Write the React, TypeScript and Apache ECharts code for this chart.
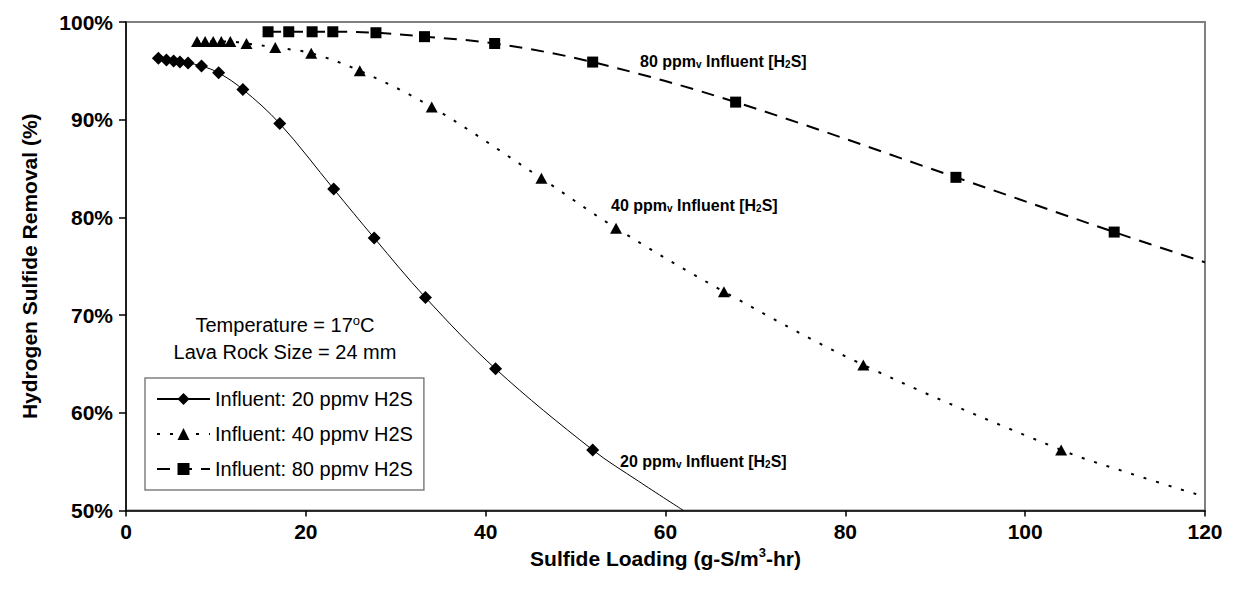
import React, { useEffect, useRef } from "react";
import * as echarts from "echarts";

const FONT = '"Liberation Sans", Arial, sans-serif';

// Axis ticks
const xTicks = [0, 20, 40, 60, 80, 100, 120];
const yTicks = [50, 60, 70, 80, 90, 100];

// Influent 20 ppmv H2S: measured points
const load20 = [3.6, 4.5, 5.3, 6.0, 6.9, 8.4, 10.3, 13.0, 17.1, 23.1, 27.6, 33.3, 41.1, 51.9];
const removal20 = [96.3, 96.1, 96.0, 95.9, 95.8, 95.5, 94.8, 93.1, 89.6, 82.9, 77.9, 71.8, 64.5, 56.2];
// trend line continuation past the last measurement
const trendLoad20 = [57.0, 62.0];
const trendRemoval20 = [53.0, 50.0];

// Influent 40 ppmv H2S
const load40 = [7.9, 8.8, 9.7, 10.6, 11.6, 13.4, 16.6, 20.6, 26.0, 34.0, 46.2, 54.5, 66.5, 82.0, 104.0];
const removal40 = [98.0, 98.0, 98.0, 98.0, 98.0, 97.8, 97.4, 96.8, 95.0, 91.3, 84.0, 78.9, 72.4, 64.9, 56.2];
const trendLoad40 = [112.0, 120.0];
const trendRemoval40 = [53.7, 51.4];

// Influent 80 ppmv H2S
const load80 = [15.8, 18.1, 20.7, 23.0, 27.8, 33.2, 41.0, 51.9, 67.8, 92.3, 109.9];
const removal80 = [99.0, 99.0, 99.0, 99.0, 98.9, 98.5, 97.8, 95.9, 91.8, 84.1, 78.5];
const trendLoad80 = [120.0];
const trendRemoval80 = [75.4];

const seriesNames = [
  "Influent: 20 ppmv H2S",
  "Influent: 40 ppmv H2S",
  "Influent: 80 ppmv H2S",
];

function buildData(loads: number[], vals: number[], tLoads: number[], tVals: number[]) {
  return [
    ...loads.map((x, i) => [x, vals[i]]),
    ...tLoads.map((x, i) => ({ value: [x, tVals[i]], symbol: "none" })),
  ];
}

const subRich = {
  b: { fontFamily: FONT, fontWeight: "bold", fontSize: 16, color: "#000", lineHeight: 19, verticalAlign: "middle" },
  s: { fontFamily: FONT, fontWeight: "bold", fontSize: 10, color: "#000", lineHeight: 19, verticalAlign: "bottom", padding: [0, 0, 1, 0] },
};

function curveLabel(ppm: string, x: number, y: number) {
  return {
    type: "text",
    left: x,
    top: y - 10,
    style: {
      text: `{b|${ppm} ppm}{s|v}{b| Influent [H}{s|2}{b|S]}`,
      rich: subRich,
    },
  };
}

export default function App() {
  const ref = useRef<HTMLDivElement>(null);

  useEffect(() => {
    document.body.style.margin = "0";
    const chart = echarts.init(ref.current!, undefined, { renderer: "svg" });

    const option = {
      animation: false,
      backgroundColor: "#fff",
      textStyle: { fontFamily: FONT },
      grid: {
        left: 126,
        right: 28,
        top: 22,
        bottom: 78.5,
        show: true,
        borderColor: "#808080",
        borderWidth: 2,
        backgroundColor: "transparent",
      },
      xAxis: {
        type: "value",
        min: xTicks[0],
        max: xTicks[xTicks.length - 1],
        interval: 20,
        splitLine: { show: false },
        axisLine: { show: true, lineStyle: { color: "#000", width: 1.5 } },
        axisTick: { show: true, inside: false, length: 6, lineStyle: { color: "#000", width: 1.5 } },
        axisLabel: { margin: 10, color: "#000", fontFamily: FONT, fontWeight: "bold", fontSize: 21 },
        name: "Sulfide Loading (g-S/m{sup|3}-hr)",
        nameLocation: "middle",
        nameGap: 30,
        nameTextStyle: {
          color: "#000",
          fontFamily: FONT,
          fontWeight: "bold",
          fontSize: 21,
          rich: {
            sup: { fontFamily: FONT, fontWeight: "bold", fontSize: 13, color: "#000", verticalAlign: "top", lineHeight: 24 },
          },
        },
      },
      yAxis: {
        type: "value",
        min: yTicks[0],
        max: yTicks[yTicks.length - 1],
        interval: 10,
        splitLine: { show: false },
        axisLine: { show: true, lineStyle: { color: "#000", width: 1.5 } },
        axisTick: { show: true, inside: false, length: 7, lineStyle: { color: "#000", width: 1.5 } },
        axisLabel: {
          margin: 13,
          color: "#000",
          fontFamily: FONT,
          fontWeight: "bold",
          fontSize: 21,
          formatter: "{value}%",
        },
        name: "Hydrogen Sulfide Removal (%)",
        nameLocation: "middle",
        nameRotate: 90,
        nameGap: 86,
        nameTextStyle: { color: "#000", fontFamily: FONT, fontWeight: "bold", fontSize: 21 },
      },
      legend: {
        orient: "vertical",
        left: 145,
        top: 378,
        data: seriesNames,
        backgroundColor: "#fff",
        borderColor: "#808080",
        borderWidth: 1.5,
        padding: [11, 11, 11, 11],
        itemWidth: 53,
        itemHeight: 15,
        itemGap: 15,
        textStyle: { color: "#000", fontFamily: FONT, fontSize: 20 },
      },
      graphic: [
        {
          type: "text",
          x: 285,
          y: 325,
          style: {
            text: "Temperature = 17{sup|o}C",
            fontFamily: FONT,
            fontSize: 20,
            fill: "#000",
            align: "center",
            verticalAlign: "middle",
            rich: {
              sup: { fontFamily: FONT, fontSize: 13, fill: "#000", verticalAlign: "top", lineHeight: 22 },
            },
          },
        },
        {
          type: "text",
          x: 285,
          y: 352,
          style: {
            text: "Lava Rock Size = 24 mm",
            fontFamily: FONT,
            fontSize: 20,
            fill: "#000",
            align: "center",
            verticalAlign: "middle",
          },
        },
        curveLabel("80", 640, 63),
        curveLabel("40", 611, 207),
        curveLabel("20", 620, 463),
      ],
      series: [
        {
          name: seriesNames[0],
          type: "line",
          smooth: 0.35,
          symbol: "diamond",
          symbolSize: 13,
          itemStyle: { color: "#000" },
          lineStyle: { color: "#000", width: 1, type: "solid" },
          data: buildData(load20, removal20, trendLoad20, trendRemoval20),
          z: 3,
        },
        {
          name: seriesNames[1],
          type: "line",
          smooth: 0.35,
          symbol: "triangle",
          symbolSize: [12, 11],
          itemStyle: { color: "#000" },
          lineStyle: { color: "#000", width: 2, type: [3, 10] },
          data: buildData(load40, removal40, trendLoad40, trendRemoval40),
          z: 3,
        },
        {
          name: seriesNames[2],
          type: "line",
          smooth: 0.35,
          symbol: "rect",
          symbolSize: 11,
          itemStyle: { color: "#000" },
          lineStyle: { color: "#000", width: 2, type: [13, 9] },
          data: buildData(load80, removal80, trendLoad80, trendRemoval80),
          z: 3,
        },
      ],
    };

    chart.setOption(option as any);
    return () => chart.dispose();
  }, []);

  return <div ref={ref} style={{ width: 1233, height: 589 }} />;
}
